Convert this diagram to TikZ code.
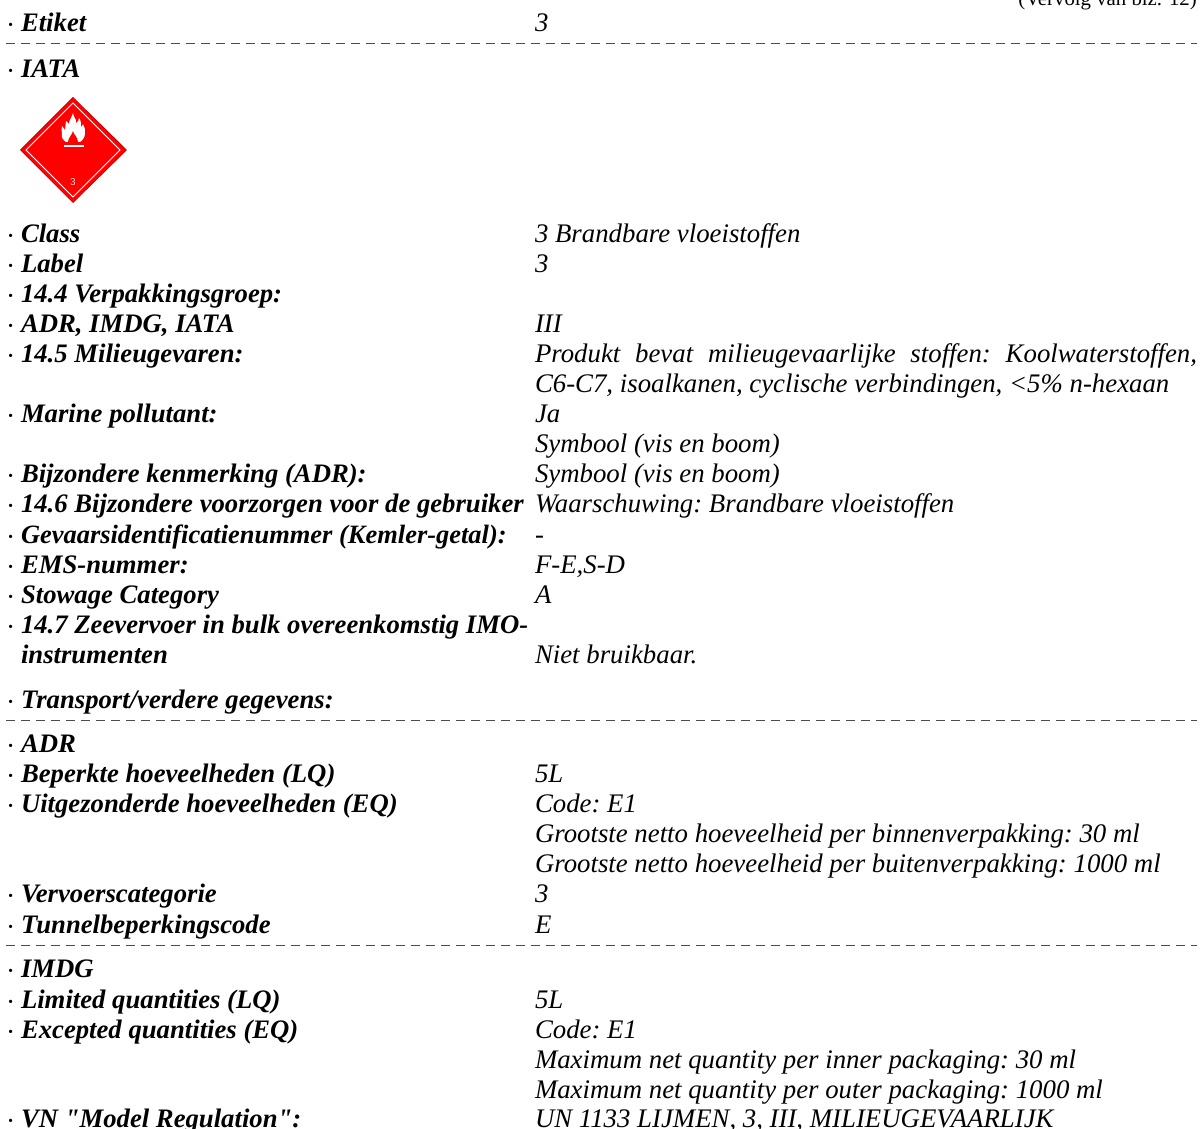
\documentclass[tikz,border=0pt]{standalone}
\usepackage{fontspec}
\setmainfont[Ligatures=TeXOff]{Liberation Serif}
\newfontfamily\plsans{Liberation Sans}
\newcommand{\szA}{\fontsize{26.8}{30}\selectfont\frenchspacing}
\newcommand{\szK}{\fontsize{26.7}{30}\selectfont\frenchspacing}
\newcommand{\szB}{\fontsize{20}{24}\selectfont}
\tikzset{
  txt/.style={anchor=base west,inner sep=0pt,outer sep=0pt,font=\szA},
  keydot/.style={txt,font=\szB\bfseries},
  keytxt/.style={txt,font=\szK\bfseries\itshape},
  valtxt/.style={txt,font=\szA\itshape},
  sep/.style={draw=black!70,line width=1pt,dash pattern=on 9pt off 6pt}
}
\newcounter{nn}
\newcommand{\K}[2]{\stepcounter{nn}\node[keydot] (d\thenn) at (7.500,-#1) {·};\node[keytxt] (k\thenn) at (21,-#1) {#2};}
\newcommand{\KC}[2]{\stepcounter{nn}\node[keytxt] (k\thenn) at (21,-#1) {#2};}
\newcommand{\V}[2]{\stepcounter{nn}\node[valtxt] (v\thenn) at (535,-#1) {#2};}
\begin{document}
\begin{tikzpicture}[x=1pt,y=1pt]
\useasboundingbox (0,0) rectangle (1203,-1129);
\begin{scope}
\clip (0,0) rectangle (1203,-1129);
\node[anchor=base east,inner sep=0pt,font=\fontsize{20.8}{24}\selectfont] (top) at (1197,-6) {(Vervolg van blz. 12)};
\K{31.7}{Etiket}\V{31.7}{3}
\coordinate (s1a) at (6,-44);\coordinate (s1b) at (1197,-44);
\draw[sep] (s1a) -- (s1b);
\K{77.5}{IATA}
% placard
\fill[red!75!black] (73,-97) -- (127,-150) -- (73,-203) -- (20,-150) -- cycle;
\fill[red] (73,-98) -- (125.500,-150) -- (73,-202) -- (21.500,-150) -- cycle;
\draw[white,line width=1pt] (73,-103) -- (120,-150) -- (73,-197) -- (26,-150) -- cycle;
\fill[white] (73,-113) .. controls (73,-117) and (77,-119) .. (76,-123)
  .. controls (78,-122) and (79,-120) .. (79,-118)
  .. controls (81,-120) and (81,-124) .. (81,-127)
  .. controls (82,-126) and (83,-125) .. (83,-124)
  .. controls (84,-127) and (86,-130) .. (85,-133)
  .. controls (85,-137) and (83,-140) .. (80,-142)
  -- (66,-142) .. controls (63,-140) and (61,-137) .. (62,-134)
  .. controls (61,-131) and (62,-129) .. (62,-126)
  .. controls (63,-127) and (64,-129) .. (65,-130)
  .. controls (65,-127) and (66,-124) .. (66,-121)
  .. controls (67,-122) and (68,-123) .. (69,-124)
  .. controls (69,-120) and (72,-117) .. (73,-113) -- cycle;
\fill[red] (73,-131) .. controls (73,-134) and (78,-137) .. (78,-142) -- (68,-142) .. controls (68,-138) and (72,-135) .. (73,-131) -- cycle;
\fill[white] (64,-145) rectangle (84,-147);
\node[anchor=center,inner sep=0pt,text=red!15,font=\plsans\fontsize{10}{11}\selectfont] (n3) at (73,-182) {3};
\K{242}{Class}\V{242}{3 Brandbare vloeistoffen}
\K{272}{Label}\V{272}{3}
\K{302}{14.4 Verpakkingsgroep:}
\K{332}{ADR, IMDG, IATA}\V{332}{III}
\K{362}{14.5 Milieugevaren:}\V{362}{\makebox[662pt][s]{Produkt bevat milieugevaarlijke stoffen: Koolwaterstoffen,}}
\V{392}{C6-C7, isoalkanen, cyclische verbindingen, <5\% n-hexaan}
\K{422}{Marine pollutant:}\V{422}{Ja}
\V{452}{Symbool (vis en boom)}
\K{482}{Bijzondere kenmerking (ADR):}\V{482}{Symbool (vis en boom)}
\K{512}{14.6 Bijzondere voorzorgen voor de gebruiker}\V{512}{Waarschuwing: Brandbare vloeistoffen}
\K{543}{\fontsize{26.45}{30}\selectfont Gevaarsidentificatienummer (Kemler-getal):}\V{543}{-}
\K{573}{EMS-nummer:}\V{573}{F-E,S-D}
\K{603}{Stowage Category}\V{603}{A}
\K{633}{14.7 Zeevervoer in bulk overeenkomstig IMO-}
\KC{663}{instrumenten}\V{663}{Niet bruikbaar.}
\K{708}{Transport/verdere gegevens:}
\coordinate (s2a) at (6,-720.500);\coordinate (s2b) at (1197,-720.500);
\draw[sep] (s2a) -- (s2b);
\K{752}{ADR}
\K{782}{Beperkte hoeveelheden (LQ)}\V{782}{5L}
\K{812}{Uitgezonderde hoeveelheden (EQ)}\V{812}{Code: E1}
\V{842}{Grootste netto hoeveelheid per binnenverpakking: 30 ml}
\V{872}{Grootste netto hoeveelheid per buitenverpakking: 1000 ml}
\K{902}{Vervoerscategorie}\V{902}{3}
\K{933}{Tunnelbeperkingscode}\V{933}{E}
\coordinate (s3a) at (6,-945);\coordinate (s3b) at (1197,-945);
\draw[sep] (s3a) -- (s3b);
\K{977.6}{IMDG}
\K{1008}{Limited quantities (LQ)}\V{1008}{5L}
\K{1038}{Excepted quantities (EQ)}\V{1038}{Code: E1}
\V{1068}{Maximum net quantity per inner packaging: 30 ml}
\V{1098}{Maximum net quantity per outer packaging: 1000 ml}
\K{1127.5}{VN "Model Regulation":}\V{1127.5}{UN 1133 LIJMEN, 3, III, MILIEUGEVAARLIJK}
\end{scope}
\end{tikzpicture}
\end{document}
